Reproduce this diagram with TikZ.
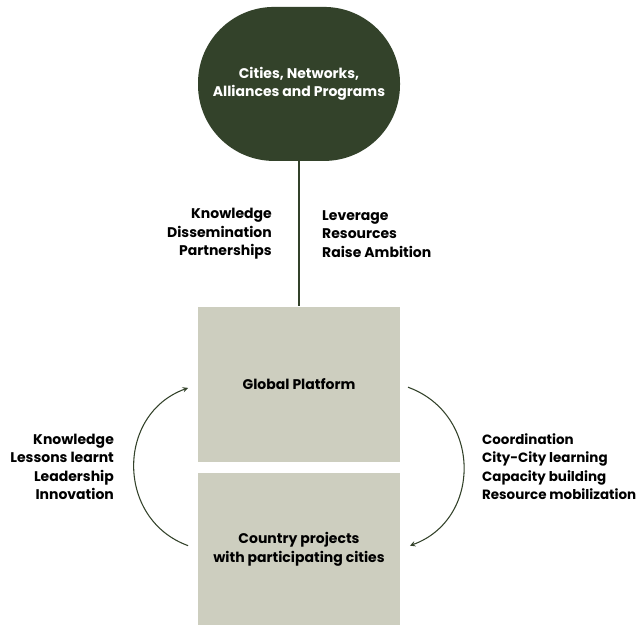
\documentclass[tikz,border=0pt]{standalone}
\usepackage{fontspec}
\setmainfont{Poppins}
\usetikzlibrary{positioning}
\definecolor{darkmoss}{RGB}{51,66,42}
\definecolor{sage}{RGB}{205,206,191}

\begin{document}
\begin{tikzpicture}[x=0.75pt,y=-0.75pt,->,>=stealth,line width=0.8pt,draw=darkmoss,
  txt/.style={font=\bfseries\fontsize{10.5}{13.9}\selectfont,inner sep=0pt,text=black},
  block/.style={fill=sage,minimum width=151.5pt,inner sep=0pt,align=center,txt}]
  \useasboundingbox (0,0) rectangle (638,624);
  \node [block,minimum height=116.25pt] (gp) at (299,384.5) {Global Platform};
  \node [block,minimum height=114pt] (cp) [below=7.5pt of gp] {Country projects\\with participating cities};
  \node [block,fill=darkmoss,rounded corners=57pt,minimum height=115.5pt,text=white] (cnet) [above=108.75pt of gp] {Cities, Networks,\\Alliances and Programs};
  \path
    (cnet) edge [-] node[txt,left=20pt,align=right] {Knowledge\\Dissemination\\Partnerships}
                    node[txt,right=17pt,align=left] {Leverage\\Resources\\Raise Ambition} (gp)
    (cp.west) edge [bend left=70,looseness=1.35,shorten <=7.5pt,shorten >=7.5pt]
      node[txt,left=16.5pt,align=right] {Knowledge\\Lessons learnt\\Leadership\\Innovation} (gp.west)
    (gp.east) edge [bend left=70,looseness=1.35,shorten <=6pt,shorten >=7.5pt]
      node[txt,font=\bfseries\fontsize{10.1}{13.9}\selectfont,right=15pt,align=left] {Coordination\\City-City learning\\Capacity building\\Resource mobilization} (cp.east)
  ;
\end{tikzpicture}
\end{document}
